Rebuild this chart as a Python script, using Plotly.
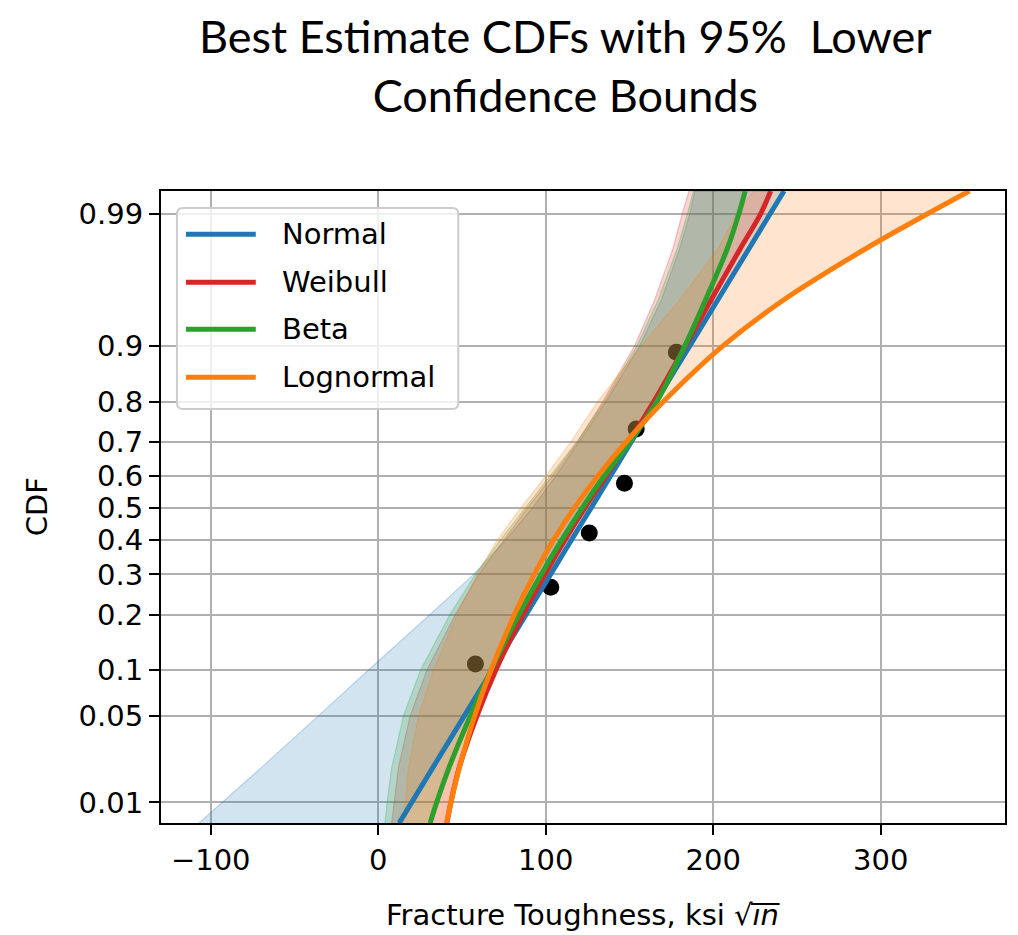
import plotly.graph_objects as go
from statistics import NormalDist

# ---------------- data ----------------
sample_toughness = [58, 103, 126, 147, 154, 178]
sample_cdf = [0.109, 0.266, 0.422, 0.578, 0.734, 0.891]

cdf_levels = [0.0064, 0.01, 0.02, 0.05, 0.1, 0.2, 0.3, 0.4, 0.5,
              0.6, 0.7, 0.8, 0.9, 0.95, 0.98, 0.99, 0.9939]

normal_best = [12.5, 20, 32.5, 51.3, 68, 88.3, 102.9, 115.3, 127, 138.7,
               151.1, 165.7, 186, 202.7, 221.5, 234, 242.3]
normal_lower = [-107, -93, -70, -36, -6, 31, 57, 76, 92, 106,
                120, 136, 156, 169, 180, 186, 189]

weibull_best = [41, 43.4, 48.3, 58.9, 70.2, 86.5, 99.5, 111.4, 123.3, 136,
                149.6, 164.5, 183.4, 198.7, 216.3, 228.3, 234.3]
weibull_lower = [8, 9.5, 12, 19, 29, 46, 60, 75, 89, 104,
                 119, 134, 153, 165, 176, 181.5, 185.5]

beta_best = [31, 34.9, 42.2, 54.9, 67.3, 84, 97.3, 109.5, 121.7, 134.9,
             150.4, 166.3, 183, 195.4, 208.5, 215.3, 219.1]
beta_lower = [4, 5.3, 8, 15, 25.2, 42.8, 58, 72.9, 87.6, 102.8,
              118.5, 135, 154.4, 167.1, 178.6, 184.6, 188.2]

lognormal_best = [40.8, 43.4, 48.4, 57.5, 67.3, 81.3, 93.1, 104.6, 117, 131.1,
                  148.1, 170.3, 205.8, 242, 291.5, 328, 353]
lognormal_lower = [15, 16, 18, 24, 33, 47, 59, 71, 85, 100,
                   115, 131, 157, 180, 203, 214, 224]

series_names = ["Normal", "Weibull", "Beta", "Lognormal"]
series_best = [normal_best, weibull_best, beta_best, lognormal_best]
series_lower = [normal_lower, weibull_lower, beta_lower, lognormal_lower]
series_rgb = [(31, 119, 180), (214, 39, 40), (44, 160, 44), (255, 127, 14)]

y_tick_labels = ["0.01", "0.05", "0.1", "0.2", "0.3", "0.4", "0.5",
                 "0.6", "0.7", "0.8", "0.9", "0.99"]
x_tick_values = [-100, 0, 100, 200, 300]
x_tick_labels = ["\u2212100", "0", "100", "200", "300"]

title_text = "Best Estimate CDFs with 95%\u00a0 Lower<br>Confidence Bounds"
x_title = "Fracture Toughness, ksi \u221a<i>i\u0305n\u0305</i>"
y_title = "CDF"

# ---------------- probability (probit) scale ----------------
nd = NormalDist()
probit = lambda p: nd.inv_cdf(p)
z_levels = [probit(p) for p in cdf_levels]
y_range = [probit(cdf_levels[0]), probit(cdf_levels[-1])]
x_range = [-129.7, 374.2]

# the page body adds an 8px offset, so the figure is made 8px smaller
OFF = 8
W, H = 1018 - OFF, 935 - OFF
ML, MR, MT, MB = 161 - OFF, 11, 191 - OFF, 112
PW, PH = W - ML - MR, H - MT - MB
PLOT_L, PLOT_B = 161, 823   # plot area in window pixels


def px(xp):
    return (xp - PLOT_L) / PW


def py(yp):
    return (PLOT_B - yp) / PH


FONT = "DejaVu Sans"
fig = go.Figure()

# sample points (drawn first, bands are translucent over them)
fig.add_trace(go.Scatter(
    x=sample_toughness, y=[probit(p) for p in sample_cdf], mode="markers",
    marker=dict(color="black", size=17), showlegend=False, name="Data"))

# confidence bands
for name, best, lower, rgb in zip(series_names, series_best, series_lower, series_rgb):
    fig.add_trace(go.Scatter(
        x=lower + best[::-1], y=z_levels + z_levels[::-1],
        fill="toself", mode="lines",
        fillcolor="rgba(%d,%d,%d,0.2)" % rgb,
        line=dict(color="rgba(%d,%d,%d,0.25)" % rgb, width=1.2),
        showlegend=False, hoverinfo="skip", name=name + " bound"))

# best estimate CDFs
for name, best, rgb in zip(series_names, series_best, series_rgb):
    fig.add_trace(go.Scatter(
        x=best, y=z_levels, mode="lines", name=name,
        line=dict(color="rgb(%d,%d,%d)" % rgb, width=5, shape="spline", smoothing=1.0),
        showlegend=False))

axis_common = dict(showline=True, linecolor="black", linewidth=2, mirror=True,
                   ticks="outside", ticklen=10, tickwidth=2, tickcolor="black",
                   showgrid=True, gridcolor="#b0b0b0", gridwidth=2, zeroline=False,
                   tickfont=dict(family=FONT, size=29, color="black"))

fig.update_xaxes(range=x_range, tickmode="array", tickvals=x_tick_values,
                 ticktext=x_tick_labels, **axis_common)
fig.update_yaxes(range=y_range, tickmode="array",
                 tickvals=[probit(float(t)) for t in y_tick_labels],
                 ticktext=y_tick_labels, **axis_common)

annotations = []
# title (two lines, top of the figure)
annotations.append(dict(text=title_text, x=px(566), y=py(OFF), xref="paper", yref="paper",
                        showarrow=False, xanchor="center", yanchor="top", align="center",
                        borderpad=0,
                        font=dict(family="Lato", size=45, color="black")))
# axis titles
annotations.append(dict(text=x_title, x=px(584), y=py(915), xref="paper", yref="paper",
                        showarrow=False, xanchor="center", yanchor="middle",
                        font=dict(family=FONT, size=29, color="black")))
annotations.append(dict(text=y_title, x=px(37), y=py(507), xref="paper", yref="paper",
                        showarrow=False, xanchor="center", yanchor="middle", textangle=-90,
                        font=dict(family=FONT, size=29, color="black")))

# legend (custom, matplotlib style)
shapes = []
lx0, lx1, ly0, ly1, r = 177, 459, 208, 409, 6
path = ("M {a},{b} L {c},{b} Q {d},{b} {d},{e} L {d},{f} Q {d},{g} {c},{g} "
        "L {a},{g} Q {h},{g} {h},{f} L {h},{e} Q {h},{b} {a},{b} Z").format(
    a=px(lx0 + r), c=px(lx1 - r), d=px(lx1), h=px(lx0),
    b=py(ly0), e=py(ly0 + r), f=py(ly1 - r), g=py(ly1))
shapes.append(dict(type="path", path=path, xref="paper", yref="paper",
                   fillcolor="rgba(255,255,255,0.8)", line=dict(color="rgb(204,204,204)", width=2),
                   layer="above"))
legend_y = [234.3, 282.3, 329.3, 377.3]
for name, rgb, ly in zip(series_names, series_rgb, legend_y):
    shapes.append(dict(type="line", xref="paper", yref="paper", x0=px(186), x1=px(256),
                       y0=py(ly), y1=py(ly), line=dict(color="rgb(%d,%d,%d)" % rgb, width=5),
                       layer="above"))
    annotations.append(dict(text=name, x=px(280), y=py(ly), xref="paper", yref="paper",
                            showarrow=False, xanchor="left", yanchor="middle",
                            font=dict(family=FONT, size=29, color="black")))

fig.update_layout(
    width=W, height=H, autosize=False,
    margin=dict(l=ML, r=MR, t=MT, b=MB, pad=0),
    paper_bgcolor="white", plot_bgcolor="white",
    showlegend=False, annotations=annotations, shapes=shapes,
    font=dict(family=FONT, size=29, color="black"),
)

fig.write_html("out.html")
